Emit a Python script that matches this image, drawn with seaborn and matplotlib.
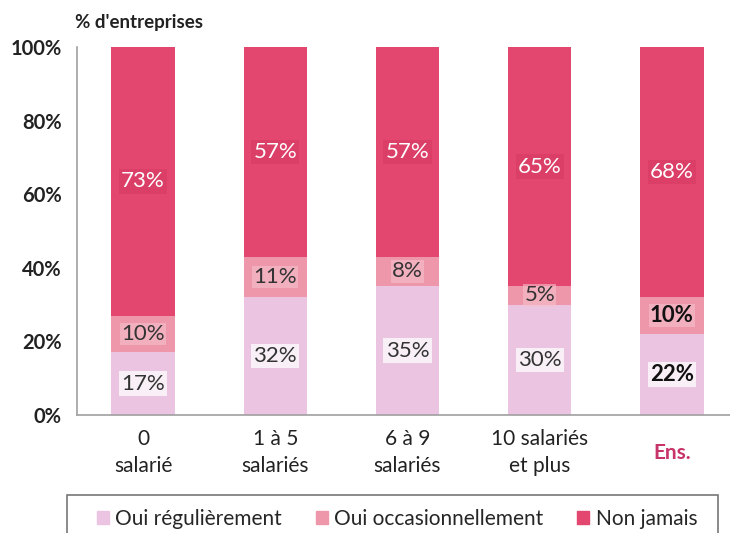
import pandas as pd
import matplotlib.pyplot as plt
import seaborn as sns
from matplotlib.patches import Rectangle
from matplotlib.transforms import ScaledTranslation

categories = ["0\nsalarié", "1 à 5\nsalariés", "6 à 9\nsalariés", "10 salariés\net plus", "Ens."]
regulierement = [17, 32, 35, 30, 22]
occasionnellement = [10, 11, 8, 5, 10]
non_jamais = [73, 57, 57, 65, 68]
series_names = ["Oui régulièrement", "Oui occasionnellement", "Non jamais"]

colors = ["#EBC4E1", "#EE96AA", "#E3466F"]

sns.set_style("white")
plt.rcParams["font.family"] = ["Lato", "DejaVu Sans"]

df = pd.DataFrame({
    "cat": categories,
    "reg": regulierement,
    "occ": occasionnellement,
    "non": non_jamais,
})
df["c1"] = df["reg"]
df["c2"] = df["reg"] + df["occ"]
df["c3"] = df["c2"] + df["non"]

fig = plt.figure(figsize=(7.3, 5.33), dpi=100)
ax = fig.add_axes([77 / 730, 118 / 533, 661 / 730, 368 / 533])

# stacked bars: draw totals first then cover with lower cumulative parts
for col, color in zip(["c3", "c2", "c1"], colors[::-1]):
    sns.barplot(data=df, x="cat", y=col, color=color, width=0.48,
                saturation=1, ax=ax, linewidth=0)

ax.set_xlim(-0.5, 4.5)
ax.set_ylim(0, 100)
ax.set_yticks([0, 20, 40, 60, 80, 100])
ax.set_yticklabels([f"{v}%" for v in range(0, 101, 20)], fontsize=14.5,
                   fontweight="bold", color="#222222")
ax.set_xticks(range(len(categories)))
ax.set_xticklabels(categories, fontsize=15, color="#222222", linespacing=1.45)
ax.set_xlabel("")
ax.set_ylabel("")
ax.tick_params(axis="x", length=0, pad=10)
ax.tick_params(axis="y", length=3, width=1, color="#999999", direction="out", pad=8)
for t in ax.get_xticklabels():
    if t.get_text() == "Ens.":
        t.set_color("#C8336A")
        t.set_fontweight("bold")
        t.set_transform(t.get_transform() + ScaledTranslation(0, -0.14, fig.dpi_scale_trans))
# minor ticks between categories
ax.set_xticks([0.5, 1.5, 2.5, 3.5], minor=True)
ax.tick_params(axis="x", which="minor", length=6, width=1, color="#999999", direction="out")

for s in ["top", "right"]:
    ax.spines[s].set_visible(False)
for s in ["left", "bottom"]:
    ax.spines[s].set_color("#A0A0A0")
    ax.spines[s].set_linewidth(1.2)

# value labels
for i, row in df.iterrows():
    ens = row["cat"] == "Ens."
    dark = "#111111" if ens else "#333333"
    w = "bold" if ens else "normal"
    ax.text(i, row["reg"] / 2, f"{row['reg']}%", ha="center", va="center",
            fontsize=16, color=dark, fontweight=w,
            bbox=dict(boxstyle="square,pad=0.1", fc="white", ec="none", alpha=0.75))
    ax.text(i, row["c1"] + row["occ"] / 2, f"{row['occ']}%", ha="center", va="center",
            fontsize=16, color=dark, fontweight=w,
            bbox=dict(boxstyle="square,pad=0.05", fc="#F6C0CC", ec="none", alpha=0.6))
    ax.text(i, row["c2"] + row["non"] / 2, f"{row['non']}%", ha="center", va="center",
            fontsize=16, color="white",
            bbox=dict(boxstyle="square,pad=0.1", fc="#D43A63", ec="none", alpha=0.5))

fig.text(75 / 730, 1 - 22 / 533, "% d'entreprises", fontsize=13.5, fontweight="bold",
         color="#222222", va="center", ha="left")

# legend frame and legend
fig.patches.append(Rectangle((67 / 730, -0.02), 651 / 730, 1 - 495 / 533 + 0.02,
                             transform=fig.transFigure, fill=False,
                             edgecolor="#777777", linewidth=1.2))
handles = [Rectangle((0, 0), 1, 1, color=c) for c in colors]
fig.legend(handles, series_names, loc="center", bbox_to_anchor=(397 / 730, 1 - 519 / 533),
           ncol=3, frameon=False, fontsize=15, handlelength=0.6, handleheight=0.6,
           handletextpad=0.3, columnspacing=1.6)

plt.savefig("out.png", dpi=100)
